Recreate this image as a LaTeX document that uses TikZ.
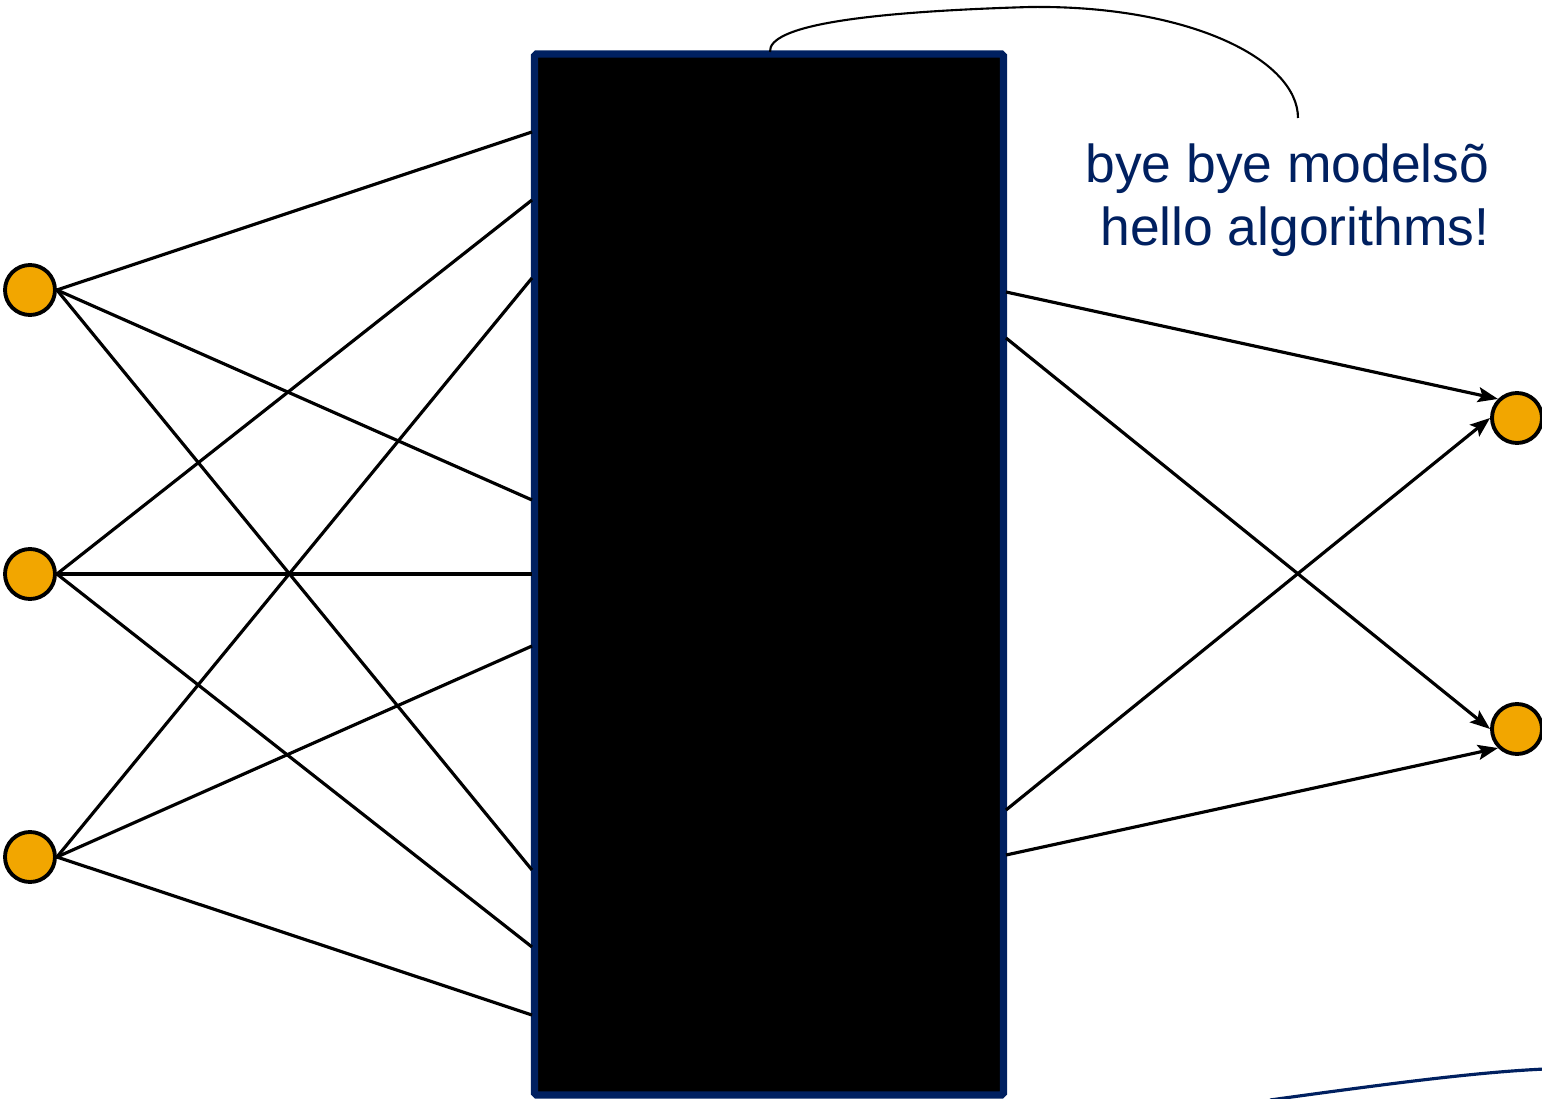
\documentclass[tikz,border=0pt]{standalone}
\usepackage{fontspec}
\setmainfont{Liberation Sans}
\usetikzlibrary{arrows,arrows.meta}

\definecolor{navy}{RGB}{0,32,96}
\definecolor{amber}{RGB}{242,166,0}

\begin{document}
\begin{tikzpicture}[x=0.1mm, y=-0.1mm,
  neuron/.style={circle, draw, line width=1.1pt, fill=amber, minimum size=5mm, inner sep=0pt},
  wire/.style={line width=0.9pt},
  tip/.style={-{Stealth[length=2mm, width=1.5mm, inset=0.4mm]}}]
\useasboundingbox (0,0) rectangle (1542,1099);

  % the black box in the middle
  \node[draw=navy, fill=black, line width=2pt, rounded corners=0.5pt,
        minimum width=46.9mm, minimum height=104.1mm, inner sep=0pt] (box) at (769,574.5) {};

  % inputs and outputs
  \node[neuron] (in1) at (30,290) {};
  \node[neuron] (in2) at (30,574) {};
  \node[neuron] (in3) at (30,857) {};
  \node[neuron] (out1) at (1517,418) {};
  \node[neuron] (out2) at (1517,729) {};

  % where the wires meet the box
  \foreach \y [count=\i] in {132,200,278,500,574,646,870,947,1015}
    \coordinate (l\i) at (532,\y);
  \foreach \y [count=\i] in {292,338,810,855}
    \coordinate (r\i) at (1006,\y);

  \foreach \k in {1,2,3}
    \foreach \j in {0,3,6} {
      \pgfmathtruncatemacro\t{\k+\j}
      \draw[wire] (in\k.east) -- (l\t);
    }

  \draw[wire,tip] (r1) -- (out1.north west);
  \draw[wire,tip] (r3) -- (out1.west);
  \draw[wire,tip] (r2) -- (out2.west);
  \draw[wire,tip] (r4) -- (out2.south west);

  % the remark and its curly pointer
  \node[text=navy, align=right, anchor=east, inner sep=0pt,
        font=\fontsize{15.2}{17.9}\selectfont] (quip) at (1490,200)
        {bye bye modelsõ\\hello algorithms!};
  \coordinate (tail) at (770,52);
  \coordinate (head) at (1298,118);
  \draw[line width=0.6pt] (tail) .. controls (768,26) and (860,12) .. (1030,7)
        .. controls (1190,5) and (1298,60) .. (head);

  \draw[navy, line width=0.9pt] (1270,1100) .. controls (1400,1082) and (1480,1072) .. (1545,1069);

\end{tikzpicture}
\end{document}
